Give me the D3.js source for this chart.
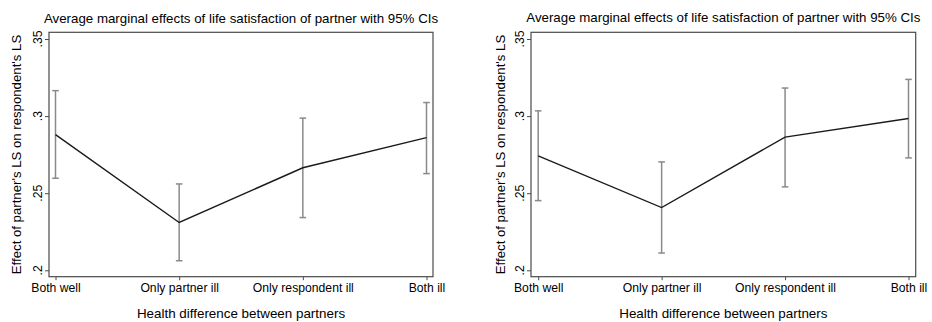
<!DOCTYPE html>
<html>
<head>
<meta charset="utf-8">
<script src="https://cdn.jsdelivr.net/npm/d3@7"></script>
<style>
  html, body { margin: 0; padding: 0; background: #fff; }
  svg { display: block; }
  text { font-family: "Liberation Sans", Arial, Helvetica, sans-serif; fill: #000; }
</style>
</head>
<body>
<svg id="chart" width="932" height="322"></svg>
<script>
// Health-difference categories on the x axis
const categories = ["Both well", "Only partner ill", "Only respondent ill", "Both ill"];

// Panel A: average marginal effects and 95% confidence bounds
const panelAEffect = [0.288, 0.231, 0.2665, 0.286];
const panelALower  = [0.2597, 0.2062, 0.2342, 0.2627];
const panelAUpper  = [0.3165, 0.256, 0.2987, 0.3088];

// Panel B: average marginal effects and 95% confidence bounds
const panelBEffect = [0.2742, 0.2407, 0.2864, 0.2984];
const panelBLower  = [0.2452, 0.2112, 0.2541, 0.2729];
const panelBUpper  = [0.3034, 0.2703, 0.3182, 0.3238];

// Y axis ticks and their labels
const yTicks = [0.2, 0.25, 0.3, 0.35];
const yTickLabels = [".2", ".25", ".3", ".35"];

const titleText = "Average marginal effects of life satisfaction of partner with 95% CIs";
const xTitleText = "Health difference between partners";
const yTitleText = "Effect of partner's LS on respondent's LS";

const svg = d3.select("#chart");

function drawPanel(cfg) {
  const g = svg.append("g");

  const y = d3.scaleLinear().domain([0.2, 0.35]).range([270.3, 39]);
  const x = d3.scalePoint().domain(categories).range([cfg.left + cfg.pad, cfg.right - cfg.pad]);

  const top = 32.3, bottom = 276.7;

  // plot region box
  g.append("rect")
    .attr("x", cfg.left).attr("y", top)
    .attr("width", cfg.right - cfg.left).attr("height", bottom - top)
    .attr("fill", "none").attr("stroke", "#4a4a4a").attr("stroke-width", 1.2);

  // y axis ticks
  const yAxis = d3.axisLeft(y).tickValues(yTicks).tickSize(4).tickFormat("");
  const ya = g.append("g").attr("transform", `translate(${cfg.left},0)`).call(yAxis);
  ya.select(".domain").remove();
  ya.selectAll(".tick line").attr("stroke", "#4a4a4a").attr("stroke-width", 1);

  // rotated y tick labels
  g.selectAll("text.ytl").data(yTicks).enter().append("text")
    .attr("class", "ytl")
    .attr("transform", (d) => `translate(${cfg.left - 7.5},${y(d)}) rotate(-90)`)
    .attr("text-anchor", "middle")
    .attr("font-size", 12.2)
    .text((d, i) => yTickLabels[i]);

  // x axis ticks and labels
  const xAxis = d3.axisBottom(x).tickSize(3.5).tickPadding(3.5);
  const xa = g.append("g").attr("transform", `translate(0,${bottom})`).call(xAxis);
  xa.select(".domain").remove();
  xa.selectAll(".tick line").attr("stroke", "#4a4a4a").attr("stroke-width", 1);
  xa.selectAll(".tick text")
    .attr("font-size", 12.2)
    .attr("font-family", "Liberation Sans, Arial, sans-serif")
    .attr("fill", "#000");

  // confidence interval bars
  const rows = categories.map((c, i) => ({
    c, e: cfg.effect[i], lo: cfg.lower[i], hi: cfg.upper[i]
  }));
  const ci = g.append("g").attr("stroke", "#8a8a8a").attr("stroke-width", 1.5).attr("fill", "none");
  ci.selectAll("line.v").data(rows).enter().append("line")
    .attr("x1", (d) => x(d.c)).attr("x2", (d) => x(d.c))
    .attr("y1", (d) => y(d.lo)).attr("y2", (d) => y(d.hi));
  ci.selectAll("line.capHi").data(rows).enter().append("line")
    .attr("x1", (d) => x(d.c) - 3.3).attr("x2", (d) => x(d.c) + 3.3)
    .attr("y1", (d) => y(d.hi)).attr("y2", (d) => y(d.hi));
  ci.selectAll("line.capLo").data(rows).enter().append("line")
    .attr("x1", (d) => x(d.c) - 3.3).attr("x2", (d) => x(d.c) + 3.3)
    .attr("y1", (d) => y(d.lo)).attr("y2", (d) => y(d.lo));

  // point-estimate line
  const line = d3.line().x((d) => x(d.c)).y((d) => y(d.e));
  g.append("path").datum(rows)
    .attr("d", line)
    .attr("fill", "none").attr("stroke", "#1a1a1a").attr("stroke-width", 1.4);

  const cx = (cfg.left + cfg.right) / 2;

  // titles
  g.append("text").attr("x", cx).attr("y", cfg.titleY)
    .attr("text-anchor", "middle").attr("font-size", 13.3).text(titleText);
  g.append("text").attr("x", cx).attr("y", 318)
    .attr("text-anchor", "middle").attr("font-size", 13.4).text(xTitleText);
  g.append("text")
    .attr("transform", `translate(${cfg.yTitleX},${(top + bottom) / 2}) rotate(-90)`)
    .attr("text-anchor", "middle").attr("font-size", 13.2).text(yTitleText);
}

drawPanel({
  left: 49, right: 433, pad: 6.5, titleY: 23, yTitleX: 20.5,
  effect: panelAEffect, lower: panelALower, upper: panelAUpper
});
drawPanel({
  left: 531, right: 915.7, pad: 7.2, titleY: 22, yTitleX: 505,
  effect: panelBEffect, lower: panelBLower, upper: panelBUpper
});
</script>
</body>
</html>
